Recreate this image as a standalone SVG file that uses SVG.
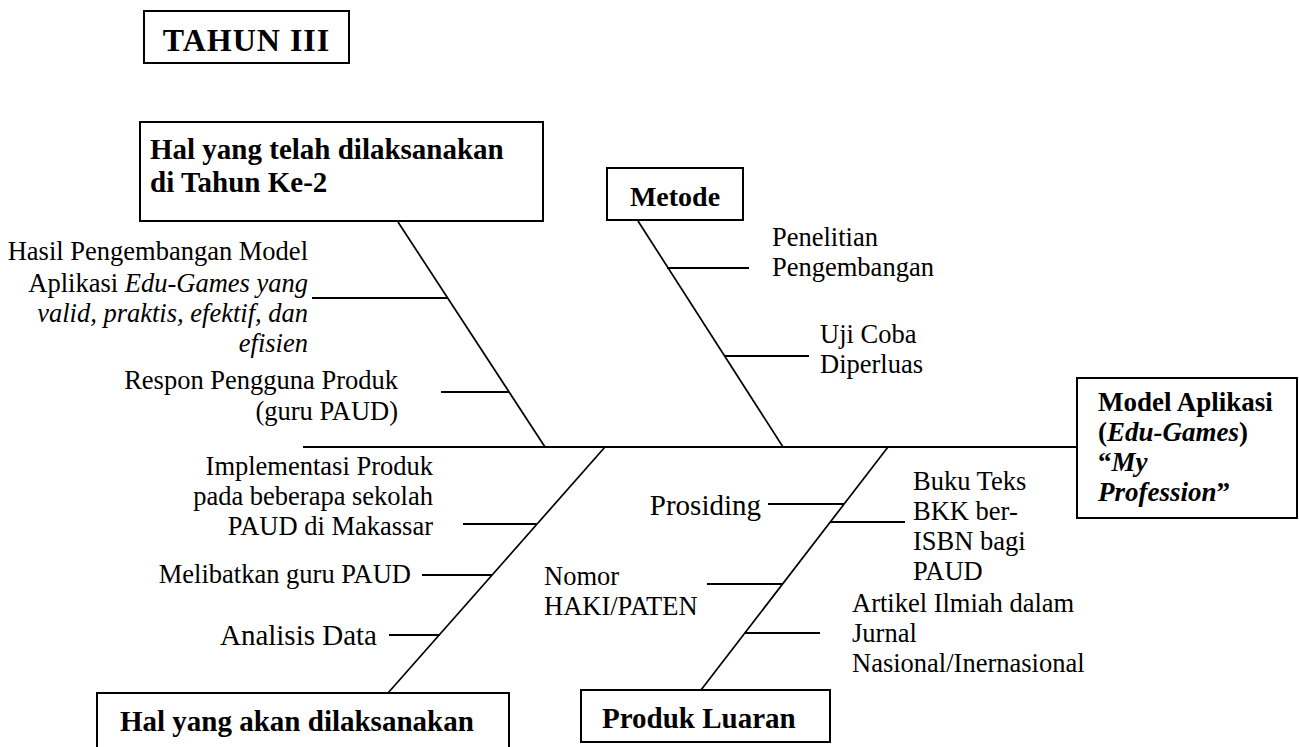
<svg xmlns="http://www.w3.org/2000/svg" width="1299" height="747" viewBox="0 0 1299 747">
<style>
.box{fill:#fff;stroke:#000;stroke-width:2}
.ln{stroke:#000;stroke-width:2;fill:none}
.dg{stroke:#000;stroke-width:1.7;fill:none}
text{font-family:"Liberation Serif","Times New Roman",serif;fill:#000}
.b{font-weight:bold}
.lbl{font-size:26.5px}
.big{font-size:29px}
.i{font-style:italic}
</style>
<rect width="1299" height="747" fill="#fff"/>
<g id="connectors">
<line class="ln" x1="303" y1="447" x2="1077" y2="447"/>
<line class="dg" x1="398" y1="222" x2="545" y2="447"/>
<line class="dg" x1="638" y1="221" x2="783" y2="447"/>
<line class="dg" x1="605" y1="447" x2="388" y2="693"/>
<line class="dg" x1="888" y1="447" x2="701" y2="690"/>
<line class="ln" x1="312" y1="298" x2="448" y2="298"/>
<line class="ln" x1="441" y1="392" x2="509" y2="392"/>
<line class="ln" x1="667" y1="268" x2="749" y2="268"/>
<line class="ln" x1="725" y1="356" x2="809" y2="356"/>
<line class="ln" x1="463" y1="524" x2="537" y2="524"/>
<line class="ln" x1="422" y1="575" x2="492" y2="575"/>
<line class="ln" x1="389" y1="635" x2="440" y2="635"/>
<line class="ln" x1="768" y1="504" x2="844" y2="504"/>
<line class="ln" x1="830" y1="522" x2="905" y2="522"/>
<line class="ln" x1="707" y1="584" x2="782" y2="584"/>
<line class="ln" x1="745" y1="633" x2="820" y2="633"/>
</g>
<g id="tahun">
<rect class="box" x="144" y="11" width="205" height="52"/>
<text class="b" x="246.5" y="51" font-size="32" letter-spacing="1" text-anchor="middle">TAHUN III</text>
</g>
<g id="hal-telah">
<rect class="box" x="140" y="122" width="403" height="99"/>
<text class="b" x="150" y="159" font-size="29">Hal yang telah dilaksanakan</text>
<text class="b" x="150" y="192" font-size="29">di Tahun Ke-2</text>
</g>
<g id="metode">
<rect class="box" x="607" y="168" width="136" height="52"/>
<text class="b" x="675" y="206" font-size="28" text-anchor="middle">Metode</text>
</g>
<g id="model">
<rect class="box" x="1077" y="378" width="220" height="140"/>
<text class="b" x="1098" y="411" font-size="27">Model Aplikasi</text>
<text class="b" x="1098" y="441" font-size="27">(<tspan class="i">Edu-Games</tspan>)</text>
<text class="b" x="1098" y="471" font-size="27">“<tspan class="i">My</tspan></text>
<text class="b" x="1098" y="501" font-size="27"><tspan class="i">Profession</tspan>”</text>
</g>
<g id="hal-akan">
<rect class="box" x="97" y="693" width="412" height="70"/>
<text class="b" x="120" y="731" font-size="29">Hal yang akan dilaksanakan</text>
</g>
<g id="produk">
<rect class="box" x="581" y="690" width="249" height="52"/>
<text class="b" x="602" y="728" font-size="29">Produk Luaran</text>
</g>
<g id="lbl-hasil">
<text class="lbl" x="308" y="260" text-anchor="end">Hasil Pengembangan Model</text>
<text class="lbl" x="308" y="292" text-anchor="end">Aplikasi <tspan class="i">Edu-Games yang</tspan></text>
<text class="lbl i" x="308" y="322" text-anchor="end">valid, praktis, efektif, dan</text>
<text class="lbl i" x="308" y="352" text-anchor="end">efisien</text>
</g>
<g id="lbl-respon">
<text class="lbl" x="398" y="389" text-anchor="end">Respon Pengguna Produk</text>
<text class="lbl" x="398" y="420" text-anchor="end">(guru PAUD)</text>
</g>
<g id="lbl-penelitian">
<text class="lbl" x="772" y="246">Penelitian</text>
<text class="lbl" x="772" y="276">Pengembangan</text>
</g>
<g id="lbl-uji">
<text class="lbl" x="820" y="343">Uji Coba</text>
<text class="lbl" x="820" y="373">Diperluas</text>
</g>
<g id="lbl-implementasi">
<text class="lbl" x="433" y="475" text-anchor="end">Implementasi Produk</text>
<text class="lbl" x="433" y="505" text-anchor="end">pada beberapa sekolah</text>
<text class="lbl" x="433" y="535" text-anchor="end">PAUD di Makassar</text>
</g>
<g id="lbl-melibatkan">
<text class="lbl" x="411" y="583" text-anchor="end">Melibatkan guru PAUD</text>
</g>
<g id="lbl-analisis">
<text class="big" x="377" y="645" text-anchor="end">Analisis Data</text>
</g>
<g id="lbl-prosiding">
<text class="big" x="761" y="515" text-anchor="end">Prosiding</text>
</g>
<g id="lbl-buku">
<text class="lbl" x="913" y="490">Buku Teks</text>
<text class="lbl" x="913" y="520">BKK ber-</text>
<text class="lbl" x="913" y="550">ISBN bagi</text>
<text class="lbl" x="913" y="580">PAUD</text>
</g>
<g id="lbl-nomor">
<text class="lbl" x="544" y="585">Nomor</text>
<text class="lbl" x="544" y="615">HAKI/PATEN</text>
</g>
<g id="lbl-artikel">
<text class="lbl" x="852" y="612">Artikel Ilmiah dalam</text>
<text class="lbl" x="852" y="642">Jurnal</text>
<text class="lbl" x="852" y="672">Nasional/Inernasional</text>
</g>
</svg>
